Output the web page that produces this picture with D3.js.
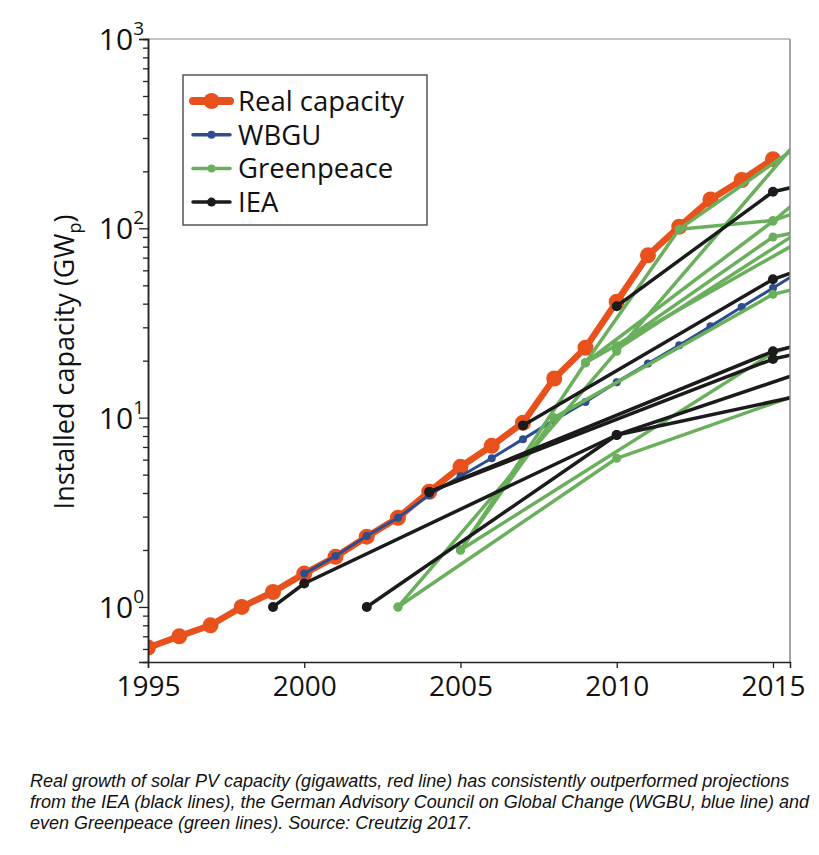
<!DOCTYPE html>
<html><head><meta charset="utf-8">
<script src="https://cdn.jsdelivr.net/npm/d3@7"></script>
<style>body{margin:0;background:#fff}</style>
</head><body>
<svg id="c" width="819" height="855"></svg>
<script>
// ---------- data ----------
const realYears  = [1995,1996,1997,1998,1999,2000,2001,2002,2003,2004,2005,2006,2007,2008,2009,2010,2011,2012,2013,2014,2015];
const realValues = [0.61,0.70,0.80,1.0,1.2,1.5,1.84,2.35,2.96,4.06,5.5,7.1,9.4,16.1,23.4,41,72,102,142,180,232];

const wbguYears  = [2000,2001,2002,2003,2004,2005,2006,2007,2008,2009,2010,2011,2012,2013,2014,2015,2016];
const wbguValues = [1.5,1.86,2.37,2.96,3.9,4.9,6.1,7.7,9.7,12.1,15.4,19.3,24.1,30.4,38.4,48.4,61];

// IEA projections [year, GWp]  (last point lies beyond the frame and is clipped)
const iea1 = [[1999,1.0],[2000,1.33],[2010,8.1],[2016,17.5]];
const iea2 = [[2002,1.0],[2010,8.1],[2016,13.2]];
const iea3 = [[2004,4.05],[2015,22.4],[2016,24.5]];
const iea4 = [[2004,4.05],[2015,20.4],[2016,22.2]];
const iea5 = [[2007,9.1],[2015,53.8],[2016,61.5]];
const iea6 = [[2010,38.8],[2015,156],[2016,170]];
const ieaLines = [iea1, iea2, iea3, iea4, iea5, iea6];
const ieaDotCount = [3, 2, 2, 2, 2, 2];

// Greenpeace projections [year, GWp]
const gp1  = [[2003,1.0],[2010,6.1],[2016,13.6]];
const gp2  = [[2003,1.0],[2010,22.4],[2016,318]];
const gp3  = [[2005,2.0],[2009,19.5],[2012,99],[2016,287]];
const gp4  = [[2005,2.0],[2015,22],[2016,25]];
const gp5  = [[2005,2.0],[2008,10],[2015,44.8],[2016,49]];
const gp6  = [[2009,19.5],[2015,109],[2016,150]];
const gp7  = [[2009,19.5],[2016,88]];
const gp8  = [[2010,24],[2015,90],[2016,97]];
const gp9  = [[2010,23],[2016,100]];
const gp10 = [[2012,99],[2015,110],[2016,125]];
const gpLines = [gp1,gp2,gp3,gp4,gp5,gp6,gp7,gp8,gp9,gp10];
const gpDotCount = [2,2,3,1,3,2,1,2,1,2];

const xTicks = [1995,2000,2005,2010,2015];
const yTicks = [1,10,100,1000];
const yTickExp = ["0","1","2","3"];
const legendLabels = ["Real capacity","WBGU","Greenpeace","IEA"];
const captionLines = [
  "Real growth of solar PV capacity (gigawatts, red line) has consistently outperformed projections",
  "from the IEA (black lines), the German Advisory Council on Global Change (WGBU, blue line) and",
  "even Greenpeace (green lines). Source: Creutzig 2017."
];

// ---------- layout ----------
const svg = d3.select("#c");
const L = 148, R = 790, T = 39, B = 662;
const x = d3.scaleLinear().domain([1995, 2015.545]).range([L, R]);
const y = d3.scaleLog().domain([0.512, 1000]).range([B, T]);

const C = {real:"#e8511c", wbgu:"#2f4c8e", gp:"#6aaf5c", iea:"#1b1b1b"};
const font = "'Open Sans', 'Noto Sans', sans-serif";

svg.append("defs").append("clipPath").attr("id","plot")
  .append("rect").attr("x",L).attr("y",T).attr("width",R-L).attr("height",B-T);

const line = d3.line().x(d=>x(d[0])).y(d=>y(d[1]));
const plot = svg.append("g").attr("clip-path","url(#plot)");

// real capacity
const realPts = realYears.map((yr,i)=>[yr, realValues[i]]);
plot.append("path").datum(realPts).attr("d",line).attr("fill","none")
  .attr("stroke",C.real).attr("stroke-width",6.5).attr("stroke-linejoin","round");
plot.selectAll(".rd").data(realPts).join("circle")
  .attr("cx",d=>x(d[0])).attr("cy",d=>y(d[1])).attr("r",8).attr("fill",C.real);

// WBGU
const wbguPts = wbguYears.map((yr,i)=>[yr, wbguValues[i]]);
plot.append("path").datum(wbguPts).attr("d",line).attr("fill","none")
  .attr("stroke",C.wbgu).attr("stroke-width",3);
plot.selectAll(".wd").data(wbguPts.filter(d=>d[0]<=2015)).join("circle")
  .attr("cx",d=>x(d[0])).attr("cy",d=>y(d[1])).attr("r",4).attr("fill",C.wbgu);

// Greenpeace
gpLines.forEach((pts,i)=>{
  plot.append("path").datum(pts).attr("d",line).attr("fill","none")
    .attr("stroke",C.gp).attr("stroke-width",3.5).attr("stroke-linejoin","round");
});
gpLines.forEach((pts,i)=>{
  plot.append("g").selectAll("circle").data(pts.slice(0,gpDotCount[i])).join("circle")
    .attr("cx",d=>x(d[0])).attr("cy",d=>y(d[1])).attr("r",4.5).attr("fill",C.gp);
});

// IEA
ieaLines.forEach((pts,i)=>{
  plot.append("path").datum(pts).attr("d",line).attr("fill","none")
    .attr("stroke",C.iea).attr("stroke-width",3.5).attr("stroke-linejoin","round");
});
ieaLines.forEach((pts,i)=>{
  plot.append("g").selectAll("circle").data(pts.slice(0,ieaDotCount[i])).join("circle")
    .attr("cx",d=>x(d[0])).attr("cy",d=>y(d[1])).attr("r",5).attr("fill",C.iea);
});

// ---------- frame & axes ----------
svg.append("line").attr("x1",L).attr("x2",R).attr("y1",T).attr("y2",T).attr("stroke","#888").attr("stroke-width",1.2);
svg.append("line").attr("x1",R).attr("x2",R).attr("y1",T).attr("y2",B).attr("stroke","#888").attr("stroke-width",1.5);

const minor = [];
for (let e=-1; e<3; e++) for (let m=2; m<10; m++) { const v=m*Math.pow(10,e); if (v>=0.512 && v<=1000) minor.push(v); }

const yMinor = svg.append("g").attr("transform",`translate(${L},0)`)
  .call(d3.axisLeft(y).tickValues(minor).tickSize(5).tickFormat(""));
const yMajor = svg.append("g").attr("transform",`translate(${L},0)`)
  .call(d3.axisLeft(y).tickValues(yTicks).tickSize(9).tickFormat(""));
[yMinor,yMajor].forEach(g=>{ g.select(".domain").attr("stroke","#222").attr("stroke-width",1.5);
  g.selectAll(".tick line").attr("stroke","#222").attr("stroke-width",1.3); });

const yl = svg.append("g");
yTicks.forEach((v,i)=>{
  const t = yl.append("text").attr("x",L-4).attr("y",y(v)+11).attr("text-anchor","end")
    .attr("font-family",font).attr("font-size",30).attr("fill","#111");
  t.append("tspan").text("10");
  t.append("tspan").attr("font-size",19).attr("dy",-15).text(yTickExp[i]);
});

const xAx = svg.append("g").attr("transform",`translate(0,${B})`)
  .call(d3.axisBottom(x).tickValues(xTicks).tickSize(6).tickPadding(8).tickFormat(d3.format("d")));
xAx.select(".domain").attr("stroke","#222").attr("stroke-width",1.5);
xAx.selectAll(".tick line").attr("stroke","#222").attr("stroke-width",1.3);
xAx.selectAll(".tick text").attr("font-family",font).attr("font-size",28).attr("fill","#111");

// y-axis title
const yt = svg.append("text").attr("transform","translate(74,362) rotate(-90)")
  .attr("text-anchor","middle").attr("font-family",font).attr("font-size",27).attr("fill","#111");
yt.append("tspan").text("Installed capacity (GW");
yt.append("tspan").attr("font-size",18).attr("dy",7).text("p");
yt.append("tspan").attr("dy",-7).text(")");

// ---------- legend ----------
const lg = svg.append("g");
lg.append("rect").attr("x",183).attr("y",75).attr("width",244).attr("height",150)
  .attr("fill","#fff").attr("stroke","#555").attr("stroke-width",1.5);
const legendColors = [C.real, C.wbgu, C.gp, C.iea];
const legendW = [8,3.5,3.5,3.5], legendR = [8,4,4,4.5];
legendLabels.forEach((lab,i)=>{
  const cy = 101 + i*33.7;
  lg.append("line").attr("x1",193).attr("x2",230).attr("y1",cy).attr("y2",cy)
    .attr("stroke",legendColors[i]).attr("stroke-width",legendW[i]).attr("stroke-linecap","round");
  lg.append("circle").attr("cx",211.5).attr("cy",cy).attr("r",legendR[i]).attr("fill",legendColors[i]);
  lg.append("text").attr("x",238).attr("y",cy+10).attr("font-family",font).attr("font-size",27.5)
    .attr("fill","#111").text(lab);
});

// ---------- caption ----------
captionLines.forEach((s,i)=>{
  svg.append("text").attr("x",30).attr("y",787+i*21).attr("font-family","'Liberation Sans', Arial, sans-serif")
    .attr("font-style","italic").attr("font-size",18).attr("fill","#111").text(s);
});
</script>
</body></html>
